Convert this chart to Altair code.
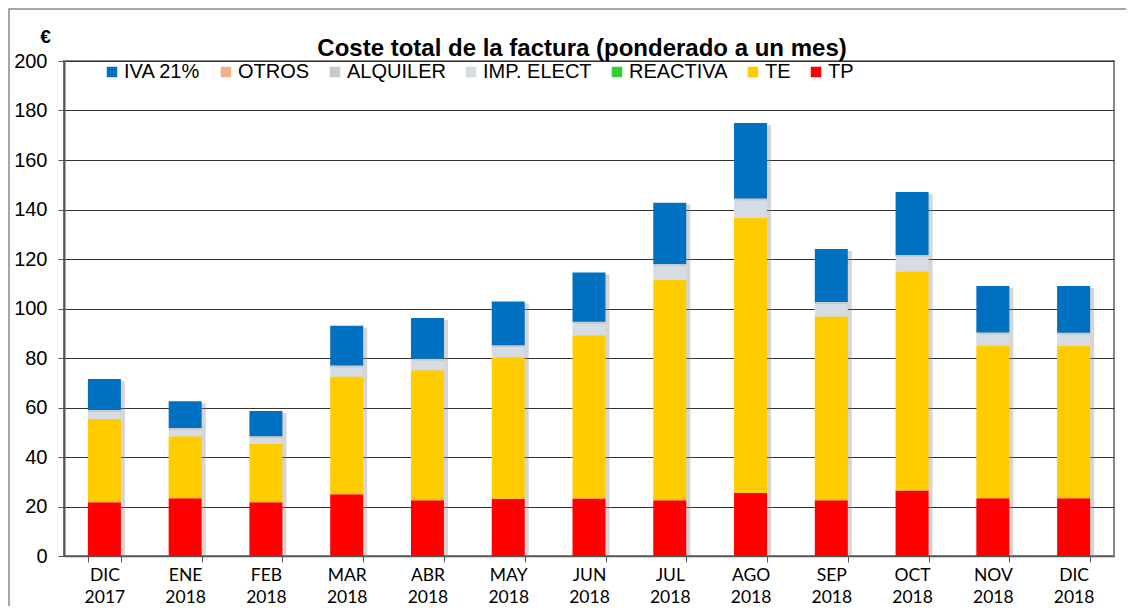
import altair as alt
import pandas as pd

months = ["DIC 2017", "ENE 2018", "FEB 2018", "MAR 2018", "ABR 2018", "MAY 2018",
          "JUN 2018", "JUL 2018", "AGO 2018", "SEP 2018", "OCT 2018", "NOV 2018", "DIC 2018"]

tp = [21.7, 23.3, 21.7, 24.9, 22.5, 23.1, 23.2, 22.5, 25.5, 22.5, 26.5, 23.3, 23.3]
te = [33.7, 25.1, 23.6, 47.6, 52.6, 57.2, 66.0, 89.0, 111.1, 74.3, 88.4, 61.8, 61.7]
reactiva = [0] * 13
imp_elect = [2.8, 2.5, 2.3, 3.7, 3.8, 4.1, 4.6, 5.7, 7.0, 5.0, 5.9, 4.4, 4.4]
alquiler = [0.8] * 13
otros = [0] * 13
iva = [12.5, 10.8, 10.2, 16.0, 16.5, 17.6, 19.9, 24.7, 30.5, 21.4, 25.5, 18.8, 18.9]

legend_order = ["IVA 21%", "OTROS", "ALQUILER", "IMP. ELECT", "REACTIVA", "TE", "TP"]
colors = ["#0070C0", "#F4B183", "#C9C9C9", "#D6DCE4", "#33CC33", "#FFCC00", "#FF0000"]

title_text = "Coste total de la factura (ponderado a un mes)"

series = {
    "TP": tp, "TE": te, "REACTIVA": reactiva, "IMP. ELECT": imp_elect,
    "ALQUILER": alquiler, "OTROS": otros, "IVA 21%": iva,
}
stack_order = ["TP", "TE", "REACTIVA", "IMP. ELECT", "ALQUILER", "OTROS", "IVA 21%"]

rows = []
for s in stack_order:
    for m, v in zip(months, series[s]):
        rows.append({"mes": m, "serie": s, "valor": v, "orden": stack_order.index(s)})
df = pd.DataFrame(rows)

W, H = 1050, 495
FONT = "Liberation Sans, Arial, sans-serif"

xenc = alt.X("mes:N", sort=months, title=None,
             scale=alt.Scale(paddingInner=0.59, paddingOuter=0.295),
             axis=alt.Axis(labelAngle=0, labelExpr="split(datum.label, ' ')",
                           labelFont="Lato", labelFontSize=17.5, labelLineHeight=22.5,
                           labelColor="#000", labelPadding=4, tickBand="extent",
                           tickSize=6, tickColor="#555", domainColor="#555",
                           domainWidth=1.5, grid=False))

yscale = alt.Scale(domain=[0, 200], nice=False)

shadow = alt.Chart(df).mark_bar(size=33, color="#888", opacity=0.35, xOffset=4, yOffset=2).encode(
    x=xenc,
    y=alt.Y("sum(valor):Q", scale=yscale),
)

bars = alt.Chart(df).mark_bar(size=33).encode(
    x=xenc,
    y=alt.Y("valor:Q", stack="zero", title="€", scale=yscale,
            axis=alt.Axis(values=list(range(0, 201, 20)), labelFont=FONT,
                          labelFontSize=20, labelColor="#000", labelPadding=11,
                          tickSize=6, tickColor="#555", domainColor="#555",
                          domainWidth=2, gridColor="#333", gridWidth=1,
                          titleAngle=0, titleX=-19, titleY=-15, titleAlign="center",
                          titleBaseline="bottom", titleFontSize=19,
                          titleFont=FONT, titleFontWeight="bold",
                          titleColor="#000")),
    color=alt.Color("serie:N", scale=alt.Scale(domain=legend_order, range=colors),
                    sort=legend_order,
                    legend=alt.Legend(title=None, orient="none", direction="horizontal",
                                      legendX=38, legendY=1, padding=0, symbolType="square",
                                      symbolSize=110, symbolStrokeWidth=0,
                                      labelFont=FONT, labelFontSize=20,
                                      labelColor="#000", labelOffset=2,
                                      columnPadding=15, symbolOpacity=1)),
    order=alt.Order("orden:Q", sort="ascending"),
)

title = alt.Chart(pd.DataFrame({"t": [title_text]})).mark_text(
    font=FONT, fontSize=24, fontWeight="bold", color="#000",
    align="center", baseline="alphabetic"
).encode(text="t:N", x=alt.value(518), y=alt.value(-5))

frame = alt.Chart(pd.DataFrame({"a": [0]})).mark_rect(
    fill="transparent", stroke="#888", strokeWidth=1.5
).encode(x=alt.value(-55), x2=alt.value(W + 90), y=alt.value(-52), y2=alt.value(H + 80))

chart = alt.layer(shadow, bars, title, frame).properties(
    width=W, height=H,
    autosize=alt.AutoSizeParams(type="none"),
    padding={"left": 56, "top": 53, "right": 12, "bottom": 50},
).configure_view(stroke="#888", strokeWidth=2)

chart.save("out.html", embed_options={"renderer": "svg", "actions": False})
